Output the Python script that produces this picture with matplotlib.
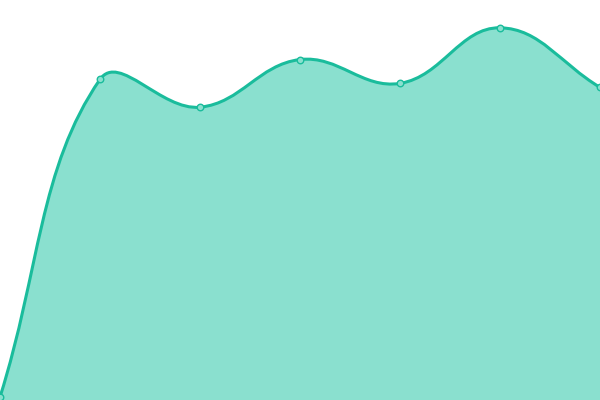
import numpy as np
import matplotlib
matplotlib.use("Agg")
import matplotlib.pyplot as plt
from matplotlib.path import Path
from matplotlib.patches import PathPatch

labels = ["1", "2", "3", "4", "5", "6", "7"]
values = [0, 80, 73, 85, 79, 93, 78]

LINE = "#1abc9c"
FILL = "#8ae0cf"
TENSION = 0.4


def spline_controls(pts, t):
    """Chart.js style cubic control points (pixel space)."""
    n = len(pts)
    out = []
    for i in range(n):
        cur = pts[i]
        prev = pts[i - 1] if i > 0 else cur
        nxt = pts[i + 1] if i < n - 1 else cur
        d01 = np.hypot(*(cur - prev))
        d12 = np.hypot(*(nxt - cur))
        tot = d01 + d12
        s01 = d01 / tot if tot else 0
        s12 = d12 / tot if tot else 0
        out.append((cur - t * s01 * (nxt - prev), cur + t * s12 * (nxt - prev)))
    return out


fig = plt.figure(figsize=(6, 4), dpi=100)
ax = fig.add_axes([0, 0, 1, 1])
ax.set_xlim(0, len(values) - 1)
ax.set_ylim(-0.75, 100)
ax.axis("off")

x = np.arange(len(values))
data = np.column_stack([x, values]).astype(float)
pix = ax.transData.transform(data)
ctrl = spline_controls(pix, TENSION)
inv = ax.transData.inverted()

verts = [data[0]]
codes = [Path.MOVETO]
for i in range(len(pix) - 1):
    c1 = inv.transform(ctrl[i][1])
    c2 = inv.transform(ctrl[i + 1][0])
    verts += [c1, c2, data[i + 1]]
    codes += [Path.CURVE4] * 3

ybot = ax.get_ylim()[0]
fill_verts = verts + [(x[-1], ybot), (x[0], ybot), verts[0]]
fill_codes = codes + [Path.LINETO, Path.LINETO, Path.CLOSEPOLY]
ax.add_patch(PathPatch(Path(fill_verts, fill_codes), facecolor=FILL, edgecolor="none"))
ax.add_patch(PathPatch(Path(verts, codes), facecolor="none", edgecolor=LINE, linewidth=2.2))

ax.scatter(x, values, s=22, facecolor=FILL, edgecolor=LINE, linewidth=1, zorder=3, clip_on=True)

fig.savefig("out.png", dpi=100)
